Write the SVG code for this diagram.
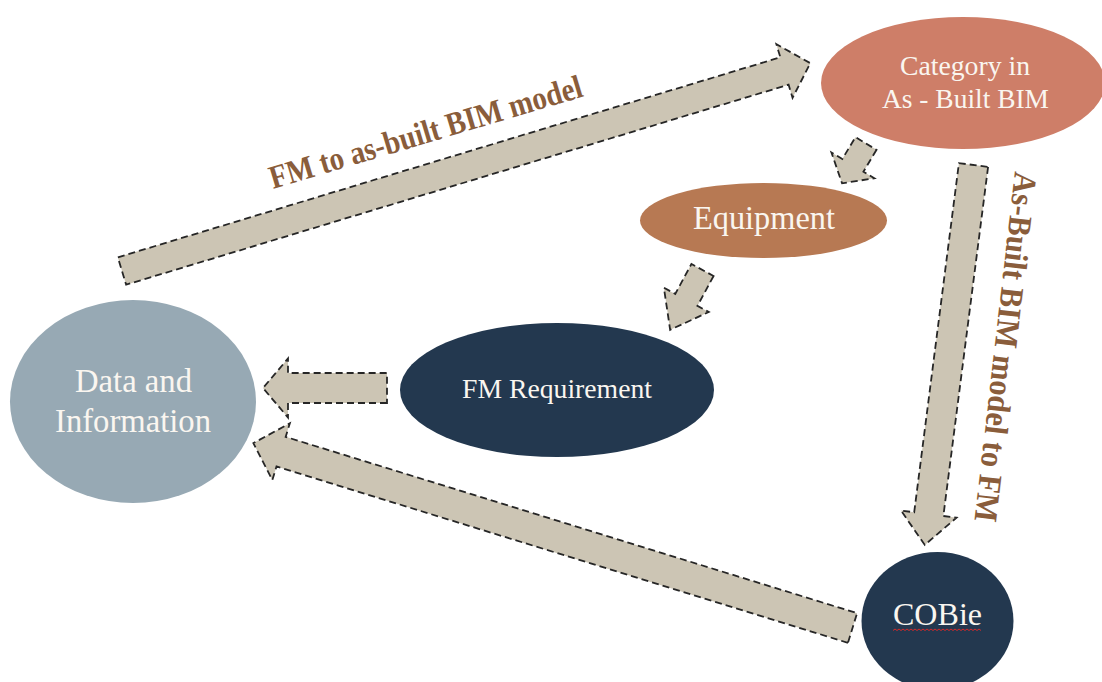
<svg xmlns="http://www.w3.org/2000/svg" width="1102" height="682" viewBox="0 0 1102 682">
  <style>
    .flow { fill: #CCC5B4; stroke: #262626; stroke-width: 1.8; stroke-dasharray: 7 4; stroke-linejoin: miter; }
    .node-text { font-family: "Liberation Serif", "Times New Roman", serif; fill: #FAF6F0; text-anchor: middle; }
    .flow-label { font-family: "Liberation Serif", "Times New Roman", serif; font-weight: bold; fill: #8A5D3B; }
  </style>
  <rect width="1102" height="682" fill="#FFFFFF"/>

  <!-- block arrows: local frame, tail centre at origin, pointing along +x -->
  <g id="connectors">
    <!-- Data and Information -> Category in As-Built BIM -->
    <polygon class="flow" transform="translate(122,271) rotate(-16.8)"
      points="0,-14.3 692,-14.3 692,-28 719,0 692,28 692,14.3 0,14.3"/>
    <!-- Category -> COBie -->
    <polygon class="flow" transform="translate(973.5,165) rotate(97.3)"
      points="0,-14.7 352,-14.7 352,-28 383,0 352,28 352,14.7 0,14.7"/>
    <!-- Category -> Equipment -->
    <polygon class="flow" transform="translate(866,143.5) rotate(121)"
      points="0,-12.3 25.5,-12.3 25.5,-25 46.5,0 25.5,25 25.5,12.3 0,12.3"/>
    <!-- Equipment -> FM Requirement -->
    <polygon class="flow" transform="translate(702.5,270) rotate(118.4)"
      points="0,-12.6 34,-12.6 34,-25.5 68,0 34,25.5 34,12.6 0,12.6"/>
    <!-- FM Requirement -> Data and Information -->
    <polygon class="flow" transform="translate(387,388) rotate(180)"
      points="0,-15 99,-15 99,-29.5 124,0 99,29.5 99,15 0,15"/>
    <!-- COBie -> Data and Information -->
    <polygon class="flow" transform="translate(852.5,628) rotate(197.15)"
      points="0,-15.5 598,-15.5 598,-29.7 627,0 598,29.7 598,15.5 0,15.5"/>

    <text class="flow-label" font-size="33" transform="translate(273,189) rotate(-16.6)"
      textLength="325" lengthAdjust="spacingAndGlyphs">FM to as-built BIM model</text>
    <text class="flow-label" font-size="33" transform="translate(1015,171) rotate(96.6)"
      textLength="352" lengthAdjust="spacingAndGlyphs">As-Built BIM model to FM</text>
  </g>

  <g id="node-category">
    <ellipse cx="963" cy="83" rx="142" ry="66" fill="#CE7E68"/>
    <text class="node-text" x="965" y="75" font-size="28" textLength="130" lengthAdjust="spacingAndGlyphs">Category in</text>
    <text class="node-text" x="965.5" y="108" font-size="28" textLength="167" lengthAdjust="spacingAndGlyphs">As - Built BIM</text>
  </g>

  <g id="node-equipment">
    <ellipse cx="763.5" cy="220.5" rx="123.5" ry="37.5" fill="#B77953"/>
    <text class="node-text" x="764" y="229" font-size="34" textLength="142" lengthAdjust="spacingAndGlyphs">Equipment</text>
  </g>

  <g id="node-data">
    <ellipse cx="133" cy="401.5" rx="123" ry="101.5" fill="#97A9B4"/>
    <text class="node-text" x="133.5" y="392" font-size="34" textLength="117" lengthAdjust="spacingAndGlyphs">Data and</text>
    <text class="node-text" x="133" y="432" font-size="34" textLength="156" lengthAdjust="spacingAndGlyphs">Information</text>
  </g>

  <g id="node-fm-requirement">
    <ellipse cx="557" cy="390" rx="157" ry="67" fill="#23384F"/>
    <text class="node-text" x="557" y="398" font-size="28" textLength="190" lengthAdjust="spacingAndGlyphs">FM Requirement</text>
  </g>

  <g id="node-cobie">
    <ellipse cx="937.5" cy="621" rx="76" ry="69" fill="#23384F"/>
    <text class="node-text" x="937.5" y="625" font-size="32" textLength="89" lengthAdjust="spacingAndGlyphs">COBie</text>
    <!-- wavy proofing underline -->
    <path d="M893,630.5 l2,-1.5 l2,1.5 l2,-1.5 l2,1.5 l2,-1.5 l2,1.5 l2,-1.5 l2,1.5 l2,-1.5 l2,1.5 l2,-1.5 l2,1.5 l2,-1.5 l2,1.5 l2,-1.5 l2,1.5 l2,-1.5 l2,1.5 l2,-1.5 l2,1.5 l2,-1.5 l2,1.5 l2,-1.5 l2,1.5 l2,-1.5 l2,1.5 l2,-1.5 l2,1.5 l2,-1.5 l2,1.5 l2,-1.5 l2,1.5 l2,-1.5 l2,1.5 l2,-1.5 l2,1.5 l2,-1.5 l2,1.5 l2,-1.5 l2,1.5 l2,-1.5 l2,1.5 l2,-1.5 l2,1.5"
      fill="none" stroke="#D22B2B" stroke-width="1"/>
  </g>
</svg>
